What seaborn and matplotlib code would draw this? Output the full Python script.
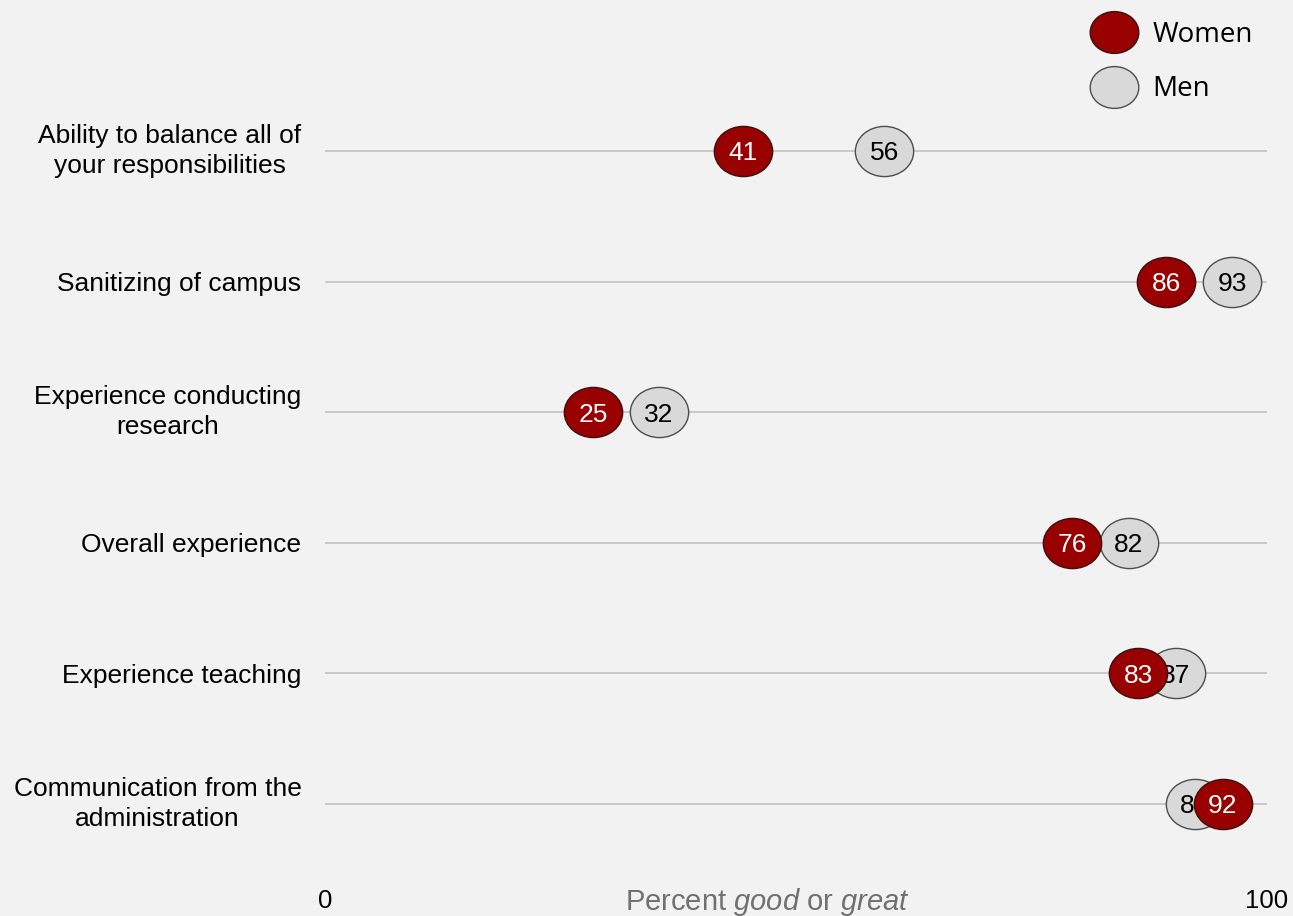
import numpy as np
import pandas as pd
import matplotlib
import matplotlib.pyplot as plt
from matplotlib.path import Path
from matplotlib.lines import Line2D
from matplotlib.transforms import Affine2D
import seaborn as sns

# 数据
categories = [
    "Ability to balance all of\nyour responsibilities",
    "Sanitizing of campus",
    "Experience conducting\nresearch",
    "Overall experience",
    "Experience teaching",
    "Communication from the\nadministration",
]
women = [41, 86, 25, 76, 83, 92]
men = [56, 93, 32, 82, 87, 89]

WOMEN_COLOR = "#990000"
MEN_COLOR = "#d9d9d9"
BG = "#f2f2f2"

sns.set_theme(style="white")
plt.rcParams["font.family"] = ["Liberation Sans", "DejaVu Sans"]
plt.rcParams["mathtext.fontset"] = "custom"
plt.rcParams["mathtext.rm"] = "Liberation Sans"
plt.rcParams["mathtext.it"] = "Liberation Sans:italic"
plt.rcParams["text.color"] = "black"
plt.rcParams["xtick.color"] = "black"
plt.rcParams["ytick.color"] = "black"

df = pd.DataFrame({
    "row": list(range(len(categories))) * 2,
    "value": women + men,
    "group": ["Women"] * len(women) + ["Men"] * len(men),
})

# 略扁的圆
ellipse = Path.unit_circle().transformed(Affine2D().scale(1.0, 0.86))

W, H = 1293, 916
fig = plt.figure(figsize=(W / 100, H / 100), dpi=100, facecolor=BG)
ax = fig.add_axes([325 / W, 1 - 860 / H, (1267 - 325) / W, 760 / H])
ax.set_facecolor(BG)

# 背景横线
for r in range(len(categories)):
    ax.axhline(r, color="#bfbfbf", lw=1.1, zorder=1)

msize = 42 ** 2
sns.scatterplot(data=df[df.group == "Men"], x="value", y="row", ax=ax,
                color=MEN_COLOR, edgecolor="#4d4d4d", linewidth=1.0,
                marker=ellipse, s=msize, zorder=3, legend=False)
for r, v in enumerate(men):
    ax.text(v, r, str(v), ha="center", va="center_baseline", fontsize=19,
            color="black", zorder=4)

sns.scatterplot(data=df[df.group == "Women"], x="value", y="row", ax=ax,
                color=WOMEN_COLOR, edgecolor="#3a1010", linewidth=1.0,
                marker=ellipse, s=msize, zorder=5, legend=False)
for r, v in enumerate(women):
    ax.text(v, r, str(v), ha="center", va="center_baseline", fontsize=19,
            color="white", zorder=6)

x0, x1 = -3.5, 96.7
ax.set_xlim(x0, x1)
ax.set_ylim(5.43, -0.39)
ax.set_yticks(range(len(categories)))
ax.set_yticklabels(categories, fontsize=19, multialignment="center",
                   linespacing=1.3)
for lab in ax.get_yticklabels():
    if "\n" in lab.get_text():
        lab.set_va("center")
ax.set_xticks([x0, x1])
ax.set_xticklabels(["0", "100"], fontsize=18.5)
ax.tick_params(axis="both", length=0)
ax.tick_params(axis="y", pad=17)
ax.tick_params(axis="x", pad=21)
ax.set_ylabel("")
ax.set_xlabel(r"Percent $\it{good}$ or $\it{great}$", fontsize=21,
              color="#707070")
ax.xaxis.set_label_coords(0.47, -0.034)
for s in ax.spines.values():
    s.set_visible(False)

handles = [
    Line2D([], [], ls="", marker=ellipse, markersize=35, markerfacecolor=WOMEN_COLOR,
           markeredgecolor="#3a1010", markeredgewidth=1.0),
    Line2D([], [], ls="", marker=ellipse, markersize=35, markerfacecolor=MEN_COLOR,
           markeredgecolor="#4d4d4d", markeredgewidth=1.0),
]
leg = ax.legend(handles, ["Women", "Men"], loc="upper left",
                bbox_to_anchor=(1061 / W, 1 + 4 / H), bbox_transform=fig.transFigure,
                frameon=False, handletextpad=0.4, labelspacing=0.95,
                prop={"family": "Open Sans", "size": 20})

fig.savefig("out.png", dpi=100, facecolor=BG)
